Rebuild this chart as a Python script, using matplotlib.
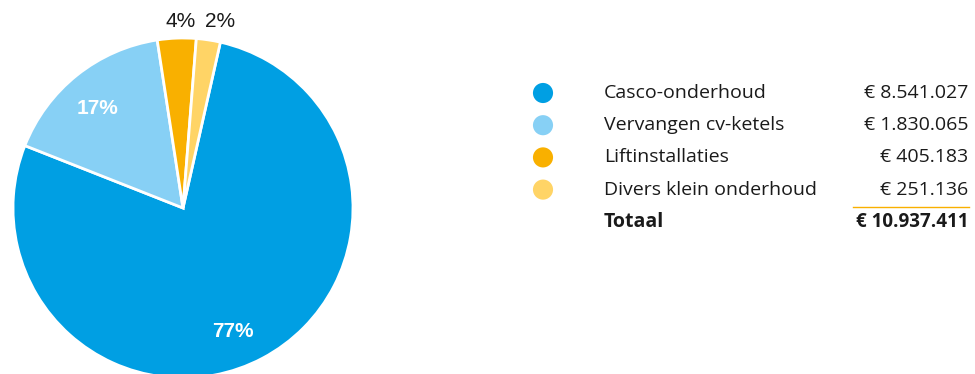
import numpy as np
import matplotlib.pyplot as plt

# data
names = ["Casco-onderhoud", "Vervangen cv-ketels", "Liftinstallaties", "Divers klein onderhoud"]
amounts = [8541027, 1830065, 405183, 251136]
amount_labels = ["€ 8.541.027", "€ 1.830.065", "€ 405.183", "€ 251.136"]
total_label = "€ 10.937.411"
colors = ["#009FE3", "#87D0F5", "#F9B000", "#FFD466"]

W, H = 975, 374
fig = plt.figure(figsize=(W / 100, H / 100), dpi=100)
ax = fig.add_axes([0, 0, 1, 1])

# pie, center/radius in pixel units (y up)
cx, cy, R = 183, H - 208, 170
wedges, _ = ax.pie(amounts, colors=colors, startangle=77.3, counterclock=False,
                   center=(cx, cy), radius=R,
                   wedgeprops=dict(edgecolor="white", linewidth=2))
ax.set_xlim(0, W)
ax.set_ylim(0, H)
ax.set_aspect("equal")
ax.axis("off")

# percentage labels (radius factor, angle tweak in degrees)
label_pos = [(0.78, -6), (0.77, 2), (1.10, -1.5), (1.12, -2.5)]
pcts = np.array(amounts) / sum(amounts) * 100
for i, (w, p) in enumerate(zip(wedges, pcts)):
    rf, da = label_pos[i]
    ang = np.deg2rad((w.theta1 + w.theta2) / 2 + da)
    if p > 10:
        kw = dict(color="white", fontweight="bold")
    else:
        kw = dict(color="#1a1a1a")
    ax.text(cx + rf * R * np.cos(ang), cy + rf * R * np.sin(ang), f"{p:.0f}%",
            ha="center", va="center", family="Liberation Sans", fontsize=15, **kw)

# legend table
row0, step = 93, 32.2
x_name, x_val = 604, 968
for i, name in enumerate(names):
    y = H - (row0 + step * i)
    ax.scatter([543], [y], s=210, color=colors[i], edgecolors="none")
    ax.text(x_name, y, name, ha="left", va="center", fontsize=14,
            family="Open Sans", color="#1a1a1a")
    ax.text(x_val, y, amount_labels[i], ha="right", va="center", fontsize=14,
            family="Open Sans", color="#1a1a1a")

y_line = H - 207
ax.plot([853, 969], [y_line, y_line], color="#F9B000", linewidth=1)
y_tot = H - (row0 + step * 4)
ax.text(x_name, y_tot, "Totaal", ha="left", va="center", fontsize=14,
        family="Open Sans", fontweight="bold", color="#1a1a1a")
ax.text(x_val, y_tot, total_label, ha="right", va="center", fontsize=13.5,
        family="Open Sans", fontweight="bold", color="#1a1a1a")

fig.savefig("out.png", dpi=100)
